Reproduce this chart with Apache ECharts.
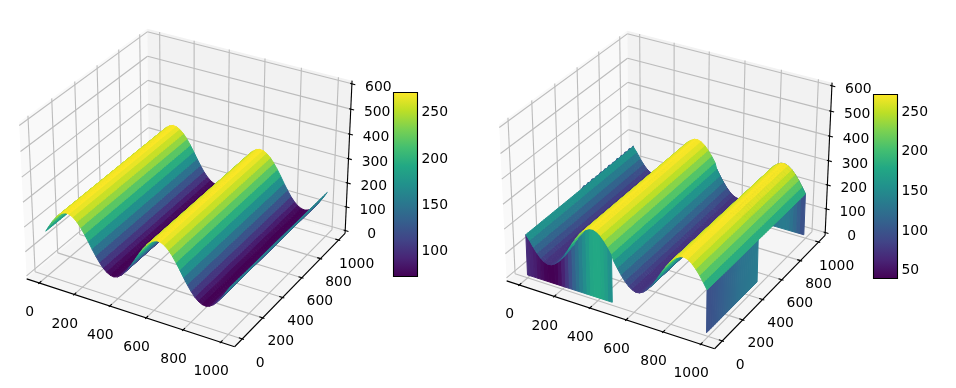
<!DOCTYPE html>
<html><head><meta charset="utf-8">
<style>html,body{margin:0;padding:0;background:#fff}#c{width:956px;height:388px}</style>
<script src="https://cdn.jsdelivr.net/npm/echarts@6/dist/echarts.min.js"></script>
</head><body><div id="c"></div>
<script>
// ---- chart values ----
const xGrid=[0,20,40,60,80,100,120,140,160,180,200,220,240,260,280,300,320,340,360,380,400,420,440,460,480,500,520,540,560,580,600,620,640,660,680,700,720,740,760,780,800,820,840,860,880,900,920,940,960,980,1000];
const rightXGrid=[0,20,40,60,80,100,120,140,160,180,200,220,240,260,280,300,320,340,360,380,400,420,440,460,480,490,510,530,550,570,590,610,630,650,670,690,710,730,750,770,790,810,830,850,870,890,910,930,950,970,990];
const yGrid=xGrid;
const leftProfile=[172,197,220,240,256,267,272,270,262,249,231,209,185,159,135,113,95,82,74,72,77,88,104,124,147,172,197,220,240,256,267,272,270,262,249,231,209,185,159,135,113,95,82,74,72,77,88,104,124,147,172];
const rightProfile=[166,147,124,104,88,77,72,74,82,95,113,135,159,185,209,231,249,262,270,272,267,256,240,220,197,172,147,124,104,88,77,72,74,82,95,113,135,159,185,209,231,249,262,270,272,267,256,240,220,197,172];
// colour values of the open sides of the right surface (one per grid cell)
const frontWallValues=[68,63,59,52,47,42,40,40,42,50,62,78,95,112,126,140,152,165,176,179,179,175,168,156];
const sideWallValues=[98,98,100,102,104,106,108,110,112,114,116,118,120,122,124,126,128,129,130,131,132,133,134,135,136];
const backWallValues=[80,70,62,54,48,42,40,42,48,58,68,80,92,104,114,122,128,133,135,136,134,128,120,110,98];
const farWallTeeth=[166,172,166,171,166,172,166,170,166,172,166,171,166,172,166,170,166,172,166,171,166,172,166,172,166,170];
const xTicks=[0,200,400,600,800,1000];
const yTicks=[0,200,400,600,800,1000];
const zTicks=[0,100,200,300,400,500,600];
const leftRange=[73,272], rightRange=[40,272];
const leftBarTicks=[100,150,200,250], rightBarTicks=[50,100,150,200,250];
const viridis=['#440154','#482475','#414487','#355f8d','#2a788e','#21918c','#22a884','#44bf70','#7ad151','#bddf26','#fde725'];

// ---- 3D projection (elev 30, azim -60, dist 10) ----
const LIMX=[-72.9,1072.9],LIMY=[-72.9,1072.9],LIMZ=[-12.5,612.5];
const BOX=[1.19048,1.19048,0.89286];
const U=[0.866025,0.5,0],V=[-0.25,0.433013,0.866025],W=[0.433013,-0.75,0.5];
function proj(x,y,z){
  const p=[(x-LIMX[0])/(LIMX[1]-LIMX[0])*BOX[0]-BOX[0]/2,(y-LIMY[0])/(LIMY[1]-LIMY[0])*BOX[1]-BOX[1]/2,(z-LIMZ[0])/(LIMZ[1]-LIMZ[0])*BOX[2]-BOX[2]/2];
  const dot=(a)=>a[0]*p[0]+a[1]*p[1]+a[2]*p[2];
  const d=10-dot(W);
  return [dot(U)/d,dot(V)/d,d];
}
function hex(c){return [parseInt(c.slice(1,3),16),parseInt(c.slice(3,5),16),parseInt(c.slice(5,7),16)];}
function cmap(t){
  t=Math.max(0,Math.min(1,t))*(viridis.length-1);
  const i=Math.min(viridis.length-2,Math.floor(t)),f=t-i,a=hex(viridis[i]),b=hex(viridis[i+1]);
  return 'rgb('+a.map((v,k)=>Math.round(v+(b[k]-v)*f)).join(',')+')';
}
function surfacePolys(gx,profile,range,walls){
  const norm=v=>cmap((v-range[0])/(range[1]-range[0]));
  const out=[];
  const add=(pts,val)=>{
    const pr=pts.map(p=>proj(p[0],p[1],p[2]));
    out.push({pts:pr.map(p=>[p[0],p[1]]),d:pr.reduce((s,p)=>s+p[2],0)/pr.length,color:norm(val)});
  };
  for(let i=0;i<gx.length-1;i++){
    const val=(profile[i]+profile[i+1])/2;
    for(let j=0;j<yGrid.length-1;j++){
      add([[gx[i],yGrid[j],profile[i]],[gx[i+1],yGrid[j],profile[i+1]],[gx[i+1],yGrid[j+1],profile[i+1]],[gx[i],yGrid[j+1],profile[i]]],val);
    }
  }
  if(walls){
    const xe=gx[gx.length-1],ze=profile[profile.length-1];
    frontWallValues.forEach((v,i)=>add([[gx[i],0,profile[i]],[gx[i+1],0,profile[i+1]],[gx[i+1],0,0],[gx[i],0,0]],v));
    sideWallValues.forEach((v,j)=>add([[xe,yGrid[j],ze],[xe,yGrid[j+1],ze],[xe,yGrid[j+1],0],[xe,yGrid[j],0]],v));
    backWallValues.forEach((v,k)=>{const i=25+k;add([[gx[i],1000,profile[i]],[gx[i+1],1000,profile[i+1]],[gx[i+1],1000,0],[gx[i],1000,0]],v);});
    farWallTeeth.slice(0,-1).forEach((t,k)=>{const j=25+k;add([[0,yGrid[j],t],[0,yGrid[j+1],farWallTeeth[k+1]],[0,yGrid[j+1],0],[0,yGrid[j],0]],110);});
  }
  out.sort((a,b)=>b.d-a.d);
  return out;
}
const FONT='13.9px "DejaVu Sans"';
function axesElements(){
  const els=[];
  const line=(a,b,c,w)=>els.push({k:'l',a:proj(...a),b:proj(...b),c,w});
  const poly=(ps,c)=>els.push({k:'p',ps:ps.map(p=>proj(...p)),c});
  const [xl,xh]=LIMX,[yl,yh]=LIMY,[zl,zh]=LIMZ;
  poly([[xl,yl,zl],[xl,yh,zl],[xl,yh,zh],[xl,yl,zh]],'#f9f9f9');
  poly([[xl,yh,zl],[xh,yh,zl],[xh,yh,zh],[xl,yh,zh]],'#f2f2f2');
  poly([[xl,yl,zl],[xh,yl,zl],[xh,yh,zl],[xl,yh,zl]],'#f5f5f5');
  const G='#bcbcbc',GW=1.1;
  xTicks.forEach(x=>{line([x,yl,zl],[x,yh,zl],G,GW);line([x,yh,zl],[x,yh,zh],G,GW);});
  yTicks.forEach(y=>{line([xh,y,zl],[xl,y,zl],G,GW);line([xl,y,zl],[xl,y,zh],G,GW);});
  zTicks.forEach(z=>{line([xl,yl,z],[xl,yh,z],G,GW);line([xl,yh,z],[xh,yh,z],G,GW);});
  const K='#000',KW=1.1;
  line([xl,yl,zl],[xh,yl,zl],K,KW);line([xh,yl,zl],[xh,yh,zl],K,KW);line([xh,yh,zl],[xh,yh,zh],K,KW);
  xTicks.forEach(x=>{line([x,yl+18,zl],[x,yl-9,zl],K,KW);
    const p=proj(x,yl,zl);els.push({k:'t',p,dx:-9.5,dy:29.5,s:String(x)});});
  yTicks.forEach(y=>{line([xh-18,y,zl],[xh+9,y,zl],K,KW);
    const p=proj(xh,y,zl);els.push({k:'t',p,dx:18,dy:24,s:String(y)});});
  zTicks.forEach(z=>{line([xh-9,yh,z],[xh+18,yh,z],K,KW);
    const p=proj(xh,yh,z);els.push({k:'t',p,dx:26.4,dy:3.6,s:String(z)});});
  return els;
}
const axesEls=axesElements();
function plot(i,cx,cy,polys){
  const sx=2001,sy=2000,W0=478,H0=388,left=i*478;
  const g={left,top:0,width:W0,height:H0};
  const xa={gridIndex:i,type:'value',show:false,min:(left-cx)/sx,max:(left+W0-cx)/sx};
  const ya={gridIndex:i,type:'value',show:false,min:(cy-H0)/sy,max:cy/sy};
  const axesSeries={type:'custom',xAxisIndex:i,yAxisIndex:i,coordinateSystem:'cartesian2d',clip:false,silent:true,z:2,
    data:axesEls.map((_,k)=>[k]),encode:{x:[],y:[]},
    renderItem(params,api){
      const e=axesEls[params.dataIndex];
      if(e.k==='l'){const a=api.coord([e.a[0],e.a[1]]),b=api.coord([e.b[0],e.b[1]]);
        return {type:'line',shape:{x1:a[0],y1:a[1],x2:b[0],y2:b[1]},style:{stroke:e.c,lineWidth:e.w}};}
      if(e.k==='p')return {type:'polygon',shape:{points:e.ps.map(p=>api.coord([p[0],p[1]]))},style:{fill:e.c}};
      const a=api.coord([e.p[0],e.p[1]]);
      return {type:'text',style:{text:e.s,x:a[0]+e.dx,y:a[1]+e.dy,font:FONT,fill:'#000',align:'center',verticalAlign:'middle'}};
    }};
  const surf={type:'custom',xAxisIndex:i,yAxisIndex:i,coordinateSystem:'cartesian2d',clip:false,silent:true,z:3,progressive:0,
    data:polys.map((_,k)=>[k]),encode:{x:[],y:[]},
    renderItem(params,api){
      const e=polys[params.dataIndex];
      return {type:'polygon',shape:{points:e.pts.map(p=>api.coord(p))},style:{fill:e.color,stroke:e.color,lineWidth:1}};
    }};
  return {g,xa,ya,series:[axesSeries,surf]};
}
function colorbar(idx,left,top,h,range,ticks){
  const stops=viridis.map((c,k)=>({offset:1-k/(viridis.length-1),color:c}));
  return {
    g:{left,top,width:24,height:h},
    xa:{gridIndex:idx,type:'value',show:false,min:0,max:1},
    ya:{gridIndex:idx,type:'value',min:range[0],max:range[1],position:'right',splitLine:{show:false},
      axisLine:{show:false},
      axisTick:{show:true,length:5,lineStyle:{color:'#000',width:1.1},customValues:ticks},
      axisLabel:{show:true,margin:4,color:'#000',fontFamily:'DejaVu Sans',fontSize:13.9,customValues:ticks}},
    series:[{type:'custom',xAxisIndex:idx,yAxisIndex:idx,coordinateSystem:'cartesian2d',silent:true,clip:false,z:5,
      data:[[0,range[0]]],
      renderItem(params,api){
        const a=api.coord([0,range[1]]),b=api.coord([1,range[0]]);
        return {type:'rect',shape:{x:a[0],y:a[1],width:b[0]-a[0],height:b[1]-a[1]},
          style:{fill:new echarts.graphic.LinearGradient(0,0,0,1,stops),stroke:'#000',lineWidth:1.1}};
      }}]
  };
}
const parts=[
  plot(0,188.8,180.1,surfacePolys(xGrid,leftProfile,leftRange,false)),
  plot(1,668.8,182.1,surfacePolys(rightXGrid,rightProfile,rightRange,true)),
  colorbar(2,393.5,92.5,184,leftRange,leftBarTicks),
  colorbar(3,873.5,94.5,184,rightRange,rightBarTicks)
];
const chart=echarts.init(document.getElementById('c'),null,{renderer:'canvas'});
chart.setOption({
  animation:false,backgroundColor:'#fff',
  grid:parts.map(p=>p.g),xAxis:parts.map(p=>p.xa),yAxis:parts.map(p=>p.ya),
  series:parts.flatMap(p=>p.series)
});
</script></body></html>
